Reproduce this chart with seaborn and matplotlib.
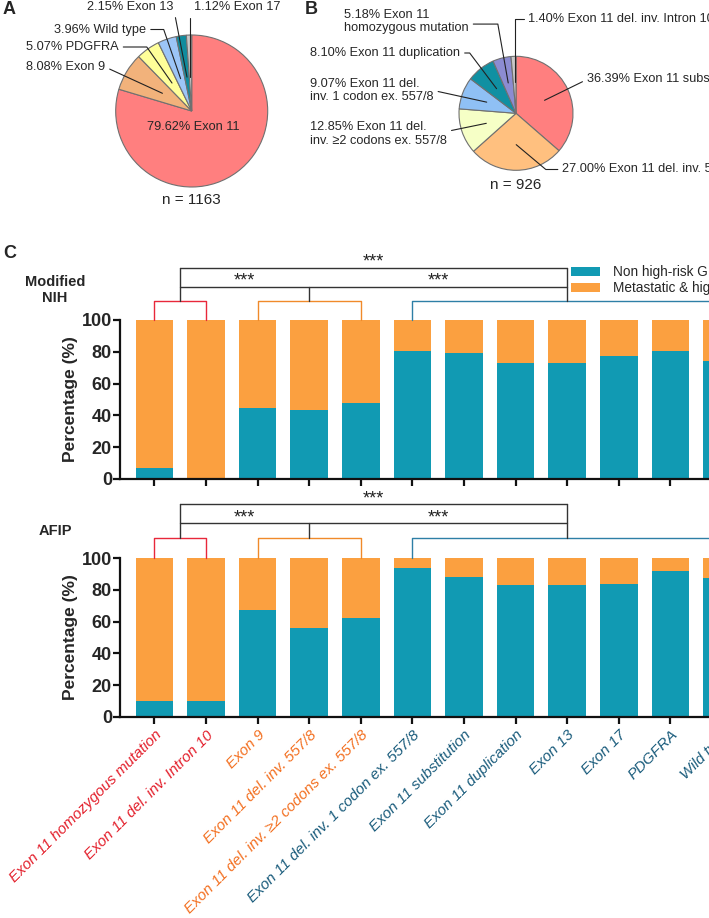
import numpy as np
import pandas as pd
import matplotlib
matplotlib.use("Agg")
import matplotlib.pyplot as plt
from matplotlib.patches import Patch
import seaborn as sns

# panel A: mutation frequency of all GIST
pie_a_labels = ["Exon 11", "Exon 9", "PDGFRA", "Wild type", "Exon 13", "Exon 17"]
pie_a_pct = [79.62, 8.08, 5.07, 3.96, 2.15, 1.12]
pie_a_colors = ["#FF7F7F", "#F2B27B", "#FFFF99", "#9CC5F7", "#108C9E", "#C8C8C8"]
pie_a_n = 1163

# panel B: exon 11 subtypes
pie_b_labels = ["Exon 11 substitution", "Exon 11 del. inv. 557/8",
                "Exon 11 del.\ninv. \u22652 codons ex. 557/8",
                "Exon 11 del.\ninv. 1 codon ex. 557/8",
                "Exon 11 duplication", "Exon 11\nhomozygous mutation",
                "Exon 11 del. inv. Intron 10"]
pie_b_pct = [36.39, 27.00, 12.85, 9.07, 8.10, 5.18, 1.40]
pie_b_colors = ["#FF7F7F", "#FFC07F", "#F6FFC6", "#8FC0F5", "#1090A2", "#8C8CD2", "#C8C8C8"]
pie_b_n = 926

# panel C: risk distribution per mutation type
categories = ["Exon 11 homozygous mutation", "Exon 11 del. inv. Intron 10", "Exon 9",
              "Exon 11 del. inv. 557/8", "Exon 11 del. inv. \u22652 codons ex. 557/8",
              "Exon 11 del. inv. 1 codon ex. 557/8", "Exon 11 substitution",
              "Exon 11 duplication", "Exon 13", "Exon 17", "PDGFRA", "Wild type"]
cat_group = [0, 0, 1, 1, 1, 2, 2, 2, 2, 2, 2, 2]
nih_non_high = [7.1, 0, 44.5, 43.2, 48.0, 80.5, 79.2, 72.8, 72.8, 77.6, 80.3, 74.0]
afip_non_high = [9.8, 10.0, 67.3, 55.8, 62.0, 93.7, 88.2, 83.3, 83.4, 84.0, 91.8, 87.6]

TEAL = "#119AB3"
ORANGE = "#FBA040"
group_colors = ["#E8283A", "#F08A2A", "#2E7FA6"]
label_colors = ["#E3202C", "#F37021", "#1A5C7C"]

W, H = 709, 918

sns.set_style("white")
plt.rcParams["font.family"] = ["Liberation Sans", "DejaVu Sans"]

fig = plt.figure(figsize=(W / 100, H / 100), dpi=100)


def fpos(x, y):
    # pixel position from top-left -> figure fraction
    return (x / W, 1 - y / H)


def draw_pie(cx, cy, r, pct, colors, labels, specs, n, n_y, rfrac):
    pad = 2
    ax = fig.add_axes([(cx - r - pad) / W, 1 - (cy + r + pad) / H,
                       (2 * r + 2 * pad) / W, (2 * r + 2 * pad) / H])
    wedges, _ = ax.pie(pct, colors=colors, startangle=90, counterclock=False,
                       wedgeprops=dict(edgecolor="#707070", linewidth=0.8))
    lim = 1 + pad / r
    ax.set_xlim(-lim, lim)
    ax.set_ylim(-lim, lim)
    ax.axis("off")
    for w, p, lab, spec in zip(wedges, pct, labels, specs):
        txt = f"{p:.2f}% {lab}"
        tx, ty, ha, relpos, conn = spec
        if conn == "inside":
            fig.text(*fpos(tx, ty), txt, ha="center", va="center", fontsize=9.2)
            continue
        mid = np.deg2rad((w.theta1 + w.theta2) / 2)
        xy = (rfrac * np.cos(mid), rfrac * np.sin(mid))
        ax.annotate(txt, xy=xy, xycoords="data", xytext=fpos(tx, ty),
                    textcoords="figure fraction", ha=ha, va="center",
                    multialignment="left", fontsize=9.2, annotation_clip=False,
                    arrowprops=dict(arrowstyle="-", color="#222222", lw=0.8,
                                    shrinkA=1, shrinkB=0, relpos=relpos,
                                    connectionstyle=conn))
    fig.text(*fpos(cx, n_y), f"n = {n}", ha="center", va="center", fontsize=11)


straight = "arc3,rad=0"
specs_a = [
    (193, 127, "center", None, "inside"),
    (26, 67, "left", (1, 0.5), straight),
    (26, 47, "left", (1, 0.5), "angle,angleA=0,angleB=-55,rad=0"),
    (54, 29.5, "left", (1, 0.5), "angle,angleA=0,angleB=-71,rad=0"),
    (87, 7, "left", (1, 0.5), straight),
    (193.5, 7, "left", (0, 0.5), "angle,angleA=0,angleB=90,rad=0"),
]
draw_pie(191.7, 111, 76, pie_a_pct, pie_a_colors, pie_a_labels, specs_a,
         pie_a_n, 200.5, 0.45)

specs_b = [
    (587, 79.5, "left", (0, 0.5), straight),
    (562.5, 169.5, "left", (0, 0.5), "angle,angleA=0,angleB=-40,rad=0"),
    (310, 134, "left", (1, 0.6), straight),
    (310, 90.5, "left", (1, 0.5), straight),
    (310, 53, "left", (1, 0.5), "angle,angleA=0,angleB=-53,rad=0"),
    (344, 21.5, "left", (1, 0.4), "angle,angleA=0,angleB=-80,rad=0"),
    (528.5, 18.5, "left", (0, 0.5), "angle,angleA=0,angleB=90,rad=0"),
]
draw_pie(516, 113.3, 57, pie_b_pct, pie_b_colors, pie_b_labels, specs_b,
         pie_b_n, 185, 0.55)

# panel letters
fig.text(*fpos(3, 9), "A", fontsize=13, fontweight="bold", va="center")
fig.text(*fpos(305, 9), "B", fontsize=13, fontweight="bold", va="center")
fig.text(*fpos(3, 253), "C", fontsize=13, fontweight="bold", va="center")


def draw_bars(top_px, bottom_px, non_high, show_labels, title, title_y, lv):
    ax = fig.add_axes([120.3 / W, 1 - bottom_px / H, 632.6 / W, (bottom_px - top_px) / H])
    df = pd.DataFrame({"mutation": categories, "non_high": non_high})
    df["high"] = 100 - df["non_high"]
    df["total"] = df["non_high"] + df["high"]
    sns.barplot(data=df, x="mutation", y="total", color=ORANGE, saturation=1,
                width=0.73, errorbar=None, linewidth=0, edgecolor="none", ax=ax)
    sns.barplot(data=df, x="mutation", y="non_high", color=TEAL, saturation=1,
                width=0.73, errorbar=None, linewidth=0, edgecolor="none", ax=ax)
    ax.set_xlim(-0.66, 11.6)
    ax.set_ylim(0, 100)
    ax.set_yticks(range(0, 101, 20))
    sns.despine(ax=ax)
    for s in ["left", "bottom"]:
        ax.spines[s].set_linewidth(1.6)
        ax.spines[s].set_color("#111111")
    ax.tick_params(axis="both", direction="out", length=5, width=1.6, color="#111111",
                   left=True, bottom=True)
    ax.tick_params(axis="y", labelsize=13, pad=1)
    for t in ax.get_yticklabels():
        t.set_fontweight("bold")
    ax.set_ylabel("Percentage (%)", fontsize=12.5, fontweight="bold", labelpad=3)
    ax.set_xlabel("")
    if show_labels:
        ax.set_xticks(range(len(categories)))
        ax.set_xticklabels(categories, rotation=45, ha="right", rotation_mode="anchor",
                           fontsize=11, fontstyle="italic")
        for t, g in zip(ax.get_xticklabels(), cat_group):
            t.set_color(label_colors[g])
        ax.tick_params(axis="x", pad=3)
    else:
        ax.set_xticklabels([])

    # grouping brackets
    l1, l2, l3 = lv
    centers = []
    for g in range(3):
        idx = [i for i, c in enumerate(cat_group) if c == g]
        a, b = idx[0], idx[-1]
        col = group_colors[g]
        ax.plot([a, a, b, b], [100, l1, l1, 100], color=col, lw=1.0, clip_on=False)
        centers.append((a + b) / 2)
    k = dict(color="#333333", lw=1.0, clip_on=False)
    ax.plot([centers[0], centers[0]], [l1, l3], **k)
    ax.plot([centers[1], centers[1]], [l1, l2], **k)
    ax.plot([centers[2], centers[2]], [l1, l3], **k)
    ax.plot([centers[0], centers[2]], [l2, l2], **k)
    ax.plot([centers[0], centers[2]], [l3, l3], **k)
    star = dict(ha="center", va="baseline", fontsize=13, color="#222222")
    ax.text((centers[0] + centers[1]) / 2, l2 + 0.8, "***", **star)
    ax.text((centers[1] + centers[2]) / 2, l2 + 0.8, "***", **star)
    ax.text((centers[0] + centers[2]) / 2, l3 + 0.8, "***", **star)

    fig.text(*fpos(55, title_y), title, ha="center", va="center", fontsize=10.5,
             fontweight="bold", linespacing=1.25)
    return ax


draw_bars(320, 479, nih_non_high, False, "Modified\nNIH", 290, (112, 121, 133))
draw_bars(558.3, 716.7, afip_non_high, True, "AFIP", 531, (113, 122, 134))

handles = [Patch(facecolor=TEAL, edgecolor="none"), Patch(facecolor=ORANGE, edgecolor="none")]
fig.legend(handles, ["Non high-risk GIST", "Metastatic & high-risk GIST"],
           loc="upper left", bbox_to_anchor=fpos(571, 265), frameon=False,
           fontsize=9.8, handlelength=2.1, handleheight=0.6, handletextpad=1.0,
           labelspacing=0.15, borderpad=0, borderaxespad=0)

fig.savefig("out.png", dpi=100)
